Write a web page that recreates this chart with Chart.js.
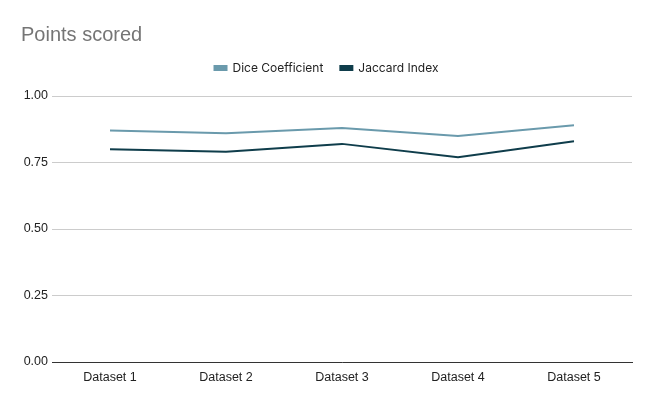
<!DOCTYPE html>
<html>
<head>
<meta charset="utf-8">
<script src="https://cdn.jsdelivr.net/npm/chart.js@4"></script>
<style>
html,body{margin:0;padding:0;background:#fff;}
#wrap{width:652px;height:404px;position:relative;}
</style>
</head>
<body>
<div id="wrap"><canvas id="c"></canvas></div>
<script>
const categories = ["Dataset 1", "Dataset 2", "Dataset 3", "Dataset 4", "Dataset 5"];
const diceValues = [0.87, 0.86, 0.88, 0.85, 0.89];
const jaccardValues = [0.80, 0.79, 0.82, 0.77, 0.83];
const yTicks = [0, 0.25, 0.5, 0.75, 1.0];

const legendGap = {
  id: 'legendGap',
  beforeLayout(chart) {
    const lg = chart.legend;
    if (lg && !lg._patched) {
      const orig = lg.fit;
      lg.fit = function () { orig.call(this); this.height += 12; };
      lg._patched = true;
    }
  }
};

new Chart(document.getElementById('c'), {
  type: 'line',
  data: {
    labels: categories,
    datasets: [
      {label: 'Dice Coefficient', data: diceValues, borderColor: '#6a9aac', backgroundColor: '#6a9aac', borderWidth: 2, pointRadius: 0, tension: 0},
      {label: 'Jaccard Index', data: jaccardValues, borderColor: '#0f3d4b', backgroundColor: '#0f3d4b', borderWidth: 2, pointRadius: 0, tension: 0}
    ]
  },
  plugins: [legendGap],
  options: {
    responsive: true,
    maintainAspectRatio: false,
    animation: false,
    layout: {padding: {left: 21, right: 20, top: 19, bottom: 19}},
    plugins: {
      title: {display: true, text: 'Points scored', align: 'start', color: '#757575',
        font: {family: 'Liberation Sans, Arial', size: 20, weight: 'normal'}, padding: {top: 4, bottom: -2}},
      legend: {display: true, position: 'top', align: 'center',
        labels: {boxWidth: 12, boxHeight: 4, color: '#222', padding: 17,
          font: {family: 'Inter, Roboto', size: 12}}},
      tooltip: {enabled: false}
    },
    scales: {
      x: {
        offset: true,
        grid: {display: false},
        border: {display: true, color: '#333', width: 1},
        ticks: {color: '#222', font: {family: 'Liberation Sans, Arial', size: 12.5}, padding: 0}
      },
      y: {
        min: 0, max: 1,
        afterBuildTicks: (s) => { s.ticks = yTicks.map(v => ({value: v})); },
        afterFit: (s) => { s.width = 31; },
        grid: {color: '#cccccc', drawTicks: false},
        border: {display: false},
        ticks: {color: '#222', font: {family: 'Liberation Sans, Arial', size: 12.5}, padding: 4,
          callback: (v) => Number(v).toFixed(2)}
      }
    }
  }
});
</script>
</body>
</html>
